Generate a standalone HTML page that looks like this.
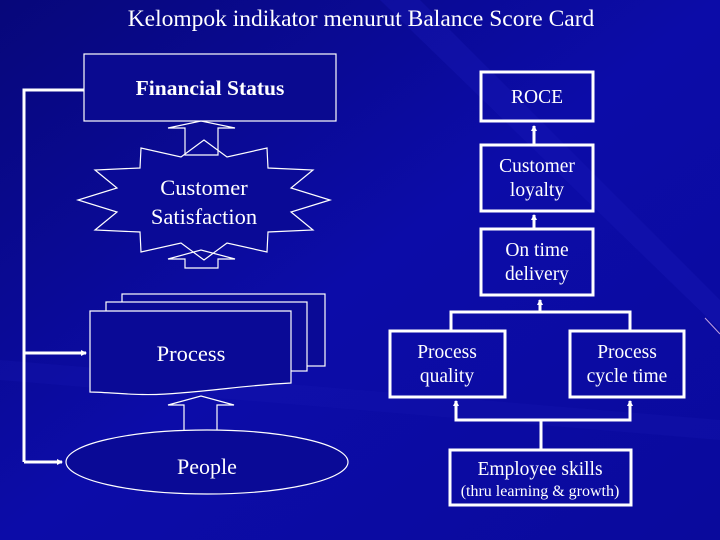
<!DOCTYPE html>
<html><head><meta charset="utf-8"><style>
html,body{margin:0;padding:0}
body{width:720px;height:540px;overflow:hidden;background:#0a0a96;}
svg{display:block}
text{font-family:"Liberation Serif",serif;fill:#fff}
</style></head><body>
<svg width="720" height="540" viewBox="0 0 720 540">
<defs>
<linearGradient id="bg" x1="0" y1="0" x2="1" y2="1">
<stop offset="0" stop-color="#07077a"/><stop offset="0.5" stop-color="#0c0ca8"/><stop offset="1" stop-color="#0a0a9c"/>
</linearGradient>
<marker id="ah" markerWidth="6" markerHeight="6" refX="5" refY="3" orient="auto" markerUnits="userSpaceOnUse"><path d="M0,0 L6,3 L0,6 z" fill="#fff"/></marker>
</defs>
<rect width="720" height="540" fill="url(#bg)"/>
<path d="M420,0 L720,300 L720,330 L380,0z" fill="#1a1ab8" opacity="0.35"/>
<path d="M0,360 L720,420 L720,440 L0,380z" fill="#1818b0" opacity="0.3"/>
<line x1="705" y1="318" x2="720" y2="334" stroke="#c0a0e0" stroke-width="1"/>
<text x="361" y="26" font-size="23.5" text-anchor="middle">Kelompok indikator menurut Balance Score Card</text>

<g fill="none" stroke="#fff" stroke-width="1.2">
<rect x="84" y="54" width="252" height="67" fill="#0a0a90"/>
<polygon points="330,200 291,212 313,230 268,232 267,252 227,243 204,260 181,243 141,252 140,232 95,230 117,212 78,200 117,188 95,170 140,168 141,148 181,157 204,140 227,157 267,148 268,168 313,170 291,188" fill="#0a0a96"/>
<polygon points="185,155 185,128 168,128 201,121 235,128 218,128 218,155"/>
<polygon points="185,268 185,259 168,259 201,250 235,259 218,259 218,268"/>
<rect x="122" y="294" width="203" height="72" fill="#0a0a96"/>
<rect x="106" y="302" width="201" height="69" fill="#0a0a96"/>
<path d="M90,311 L291,311 L291,383 C250,385 220,390 180,393 C140,397 110,392 90,392 Z" fill="#0a0a96"/>
<polygon points="184,432 184,405 168,405 201,396 234,405 217,405 217,432"/>
<ellipse cx="207" cy="462" rx="141" ry="32" fill="#0a0a96"/>
</g>
<g fill="none" stroke="#fff" stroke-width="3">
<polyline points="84,90 24,90 24,462"/>
<line x1="24" y1="353" x2="86" y2="353" marker-end="url(#ah)"/>
<line x1="24" y1="462" x2="62" y2="462" marker-end="url(#ah)"/>
<rect x="481" y="72" width="112" height="49"/>
<rect x="481" y="145" width="112" height="66"/>
<rect x="481" y="229" width="112" height="66"/>
<rect x="390" y="331" width="115" height="66"/>
<rect x="570" y="331" width="114" height="66"/>
<rect x="450" y="450" width="181" height="55"/>
<line x1="534" y1="145" x2="534" y2="126" marker-end="url(#ah)"/>
<line x1="534" y1="229" x2="534" y2="215" marker-end="url(#ah)"/>
<line x1="540" y1="312" x2="540" y2="300" marker-end="url(#ah)"/>
<polyline points="451,331 451,312 630,312 630,331"/>
<line x1="541" y1="450" x2="541" y2="420"/>
<polyline points="456,405 456,420 630,420 630,405"/>
<line x1="456" y1="410" x2="456" y2="401" marker-end="url(#ah)"/>
<line x1="630" y1="410" x2="630" y2="401" marker-end="url(#ah)"/>
</g>
<text x="210" y="95" font-size="21.5" font-weight="bold" text-anchor="middle">Financial Status</text>
<text x="204" y="195" font-size="22.5" text-anchor="middle">Customer</text>
<text x="204" y="224" font-size="22.5" text-anchor="middle">Satisfaction</text>
<text x="191" y="361" font-size="22.5" text-anchor="middle">Process</text>
<text x="207" y="474" font-size="22" text-anchor="middle">People</text>
<text x="537" y="103" font-size="19.5" text-anchor="middle">ROCE</text>
<text x="537" y="172" font-size="19.5" text-anchor="middle">Customer</text>
<text x="537" y="196" font-size="19.5" text-anchor="middle">loyalty</text>
<text x="537" y="256" font-size="19.5" text-anchor="middle">On time</text>
<text x="537" y="280" font-size="19.5" text-anchor="middle">delivery</text>
<text x="447" y="358" font-size="19.5" text-anchor="middle">Process</text>
<text x="447" y="382" font-size="19.5" text-anchor="middle">quality</text>
<text x="627" y="358" font-size="19.5" text-anchor="middle">Process</text>
<text x="627" y="382" font-size="19.5" text-anchor="middle">cycle time</text>
<text x="540" y="475" font-size="19.5" text-anchor="middle">Employee skills</text>
<text x="540" y="496" font-size="16" text-anchor="middle">(thru learning &amp; growth)</text>
</svg>
</body></html>
